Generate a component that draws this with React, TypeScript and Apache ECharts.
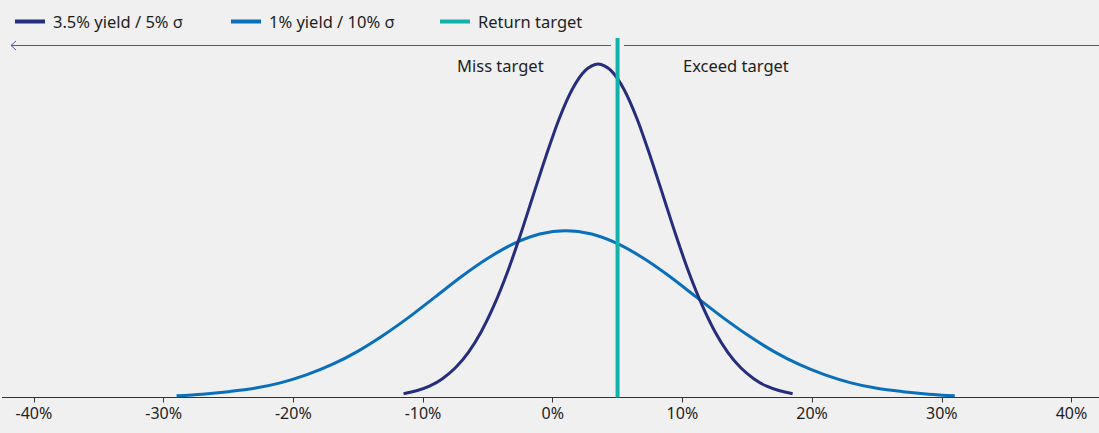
import React, { useEffect, useRef } from "react";
import * as echarts from "echarts";

// Series names
const NAME_A = "3.5% yield / 5% σ";
const NAME_B = "1% yield / 10% σ";
const NAME_T = "Return target";

// 3.5% yield / 5% sigma curve (return %, relative density)
const aReturns = [-11.5, -10.5, -9.5, -8.5, -7.5, -6.5, -5.5, -4.5, -3.5, -2.5, -1.5, -0.5, 0.5, 1.5, 2.5, 3.5, 4.5, 5.5, 6.5, 7.5, 8.5, 9.5, 10.5, 11.5, 12.5, 13.5, 14.5, 15.5, 16.5, 17.5, 18.5];
const aDensity = [0.09, 0.16, 0.27, 0.45, 0.71, 1.08, 1.58, 2.22, 2.99, 3.88, 4.84, 5.79, 6.67, 7.37, 7.82, 7.98, 7.82, 7.37, 6.67, 5.79, 4.84, 3.88, 2.99, 2.22, 1.58, 1.08, 0.71, 0.45, 0.27, 0.16, 0.09];

// 1% yield / 10% sigma curve
const bReturns = [-29, -27, -25, -23, -21, -19, -17, -15, -13, -11, -9, -7, -5, -3, -1, 1, 3, 5, 7, 9, 11, 13, 15, 17, 19, 21, 23, 25, 27, 29, 31];
const bDensity = [0.04, 0.08, 0.14, 0.22, 0.35, 0.54, 0.79, 1.11, 1.5, 1.94, 2.42, 2.9, 3.33, 3.68, 3.91, 3.99, 3.91, 3.68, 3.33, 2.9, 2.42, 1.94, 1.5, 1.11, 0.79, 0.54, 0.35, 0.22, 0.14, 0.08, 0.04];

// Return target
const targetReturn = 5;
const targetTop = 8.6;

// X axis
const xMin = -40;
const xMax = 40;
const xStep = 10;

const FONT = "'Noto Sans', 'Open Sans', sans-serif";
const TEXT = "#1e1e1e";
const C_A = "#252e7c";
const C_B = "#0a6fba";
const C_T = "#12b1ab";
const C_ARROW = "#4a559e";

export default function App() {
  const ref = useRef<HTMLDivElement>(null);
  useEffect(() => {
    document.body.style.margin = "0";
    const chart = echarts.init(ref.current!, null, { renderer: "svg" });
    const legendBase = {
      top: 8,
      itemWidth: 30,
      itemHeight: 4,
      icon: "rect",
      selectedMode: false,
      textStyle: { fontFamily: FONT, fontSize: 16.5, color: TEXT, padding: [0, 0, 0, 3] },
    };
    chart.setOption({
      animation: false,
      backgroundColor: "#f0f0f0",
      textStyle: { fontFamily: FONT },
      legend: [
        { ...legendBase, data: [NAME_A], left: 10 },
        { ...legendBase, data: [NAME_B], left: 226 },
        { ...legendBase, data: [NAME_T], left: 435 },
      ],
      grid: { left: 33.9, right: 27.5, top: 38, bottom: 35.5 },
      xAxis: {
        type: "value",
        min: xMin,
        max: xMax,
        interval: xStep,
        splitLine: { show: false },
        axisLine: { show: false },
        axisTick: { show: true, length: 5, lineStyle: { color: "#333", width: 1 } },
        axisLabel: {
          margin: 7,
          fontFamily: FONT,
          fontSize: 16,
          color: TEXT,
          formatter: (v: number) => `${v}%`,
        },
      },
      yAxis: { type: "value", min: 0, max: targetTop, show: false, splitLine: { show: false } },
      graphic: [
        {
          type: "line",
          z: 1,
          shape: { x1: 2, y1: 397.5, x2: 1099, y2: 397.5 },
          style: { stroke: "#333", lineWidth: 1 },
        },
        {
          type: "line",
          shape: { x1: 11, y1: 45.5, x2: 611, y2: 45.5 },
          style: { stroke: C_ARROW, lineWidth: 1 },
        },
        {
          type: "line",
          shape: { x1: 624, y1: 45.5, x2: 1099, y2: 45.5 },
          style: { stroke: C_ARROW, lineWidth: 1 },
        },
        {
          type: "polyline",
          shape: { points: [[16, 41], [11, 45.5], [16, 50]] },
          style: { stroke: C_ARROW, lineWidth: 1, fill: "none" },
        },
        {
          type: "text",
          x: 457,
          y: 65,
          style: { text: "Miss target", font: `16.5px ${FONT}`, fill: TEXT, textVerticalAlign: "middle", verticalAlign: "middle" },
        },
        {
          type: "text",
          x: 683,
          y: 65,
          style: { text: "Exceed target", font: `16.5px ${FONT}`, fill: TEXT, textVerticalAlign: "middle", verticalAlign: "middle" },
        },
      ],
      series: [
        {
          name: NAME_B,
          type: "line",
          data: bReturns.map((x, i) => [x, bDensity[i]]),
          smooth: 0.3,
          showSymbol: false,
          symbol: "none",
          color: C_B,
          lineStyle: { color: C_B, width: 3 },
        },
        {
          name: NAME_A,
          type: "line",
          data: aReturns.map((x, i) => [x, aDensity[i]]),
          smooth: 0.3,
          showSymbol: false,
          symbol: "none",
          color: C_A,
          lineStyle: { color: C_A, width: 3 },
        },
        {
          name: NAME_T,
          type: "line",
          data: [[targetReturn, 0], [targetReturn, targetTop]],
          showSymbol: false,
          symbol: "none",
          color: C_T,
          lineStyle: { color: C_T, width: 4 },
        },
      ],
    });
    return () => chart.dispose();
  }, []);
  return <div ref={ref} style={{ width: 1099, height: 433 }} />;
}
